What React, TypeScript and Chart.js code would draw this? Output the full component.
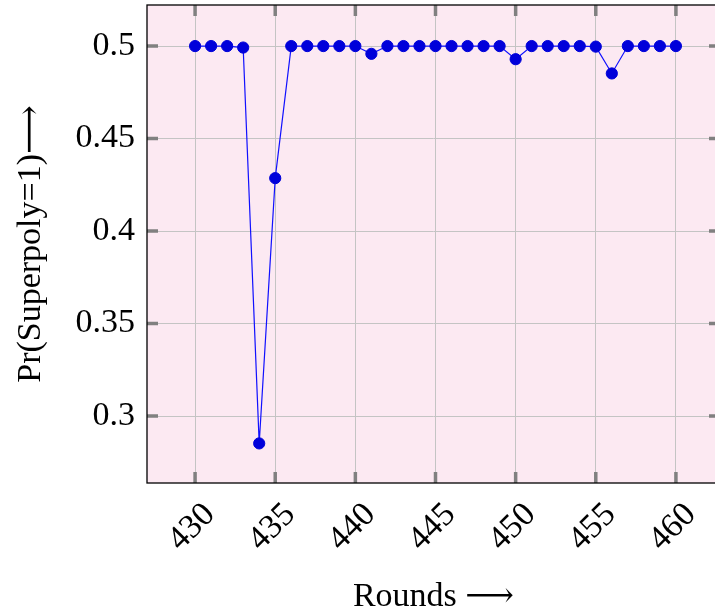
import React, { useEffect, useRef } from "react";
import { Chart, registerables } from "chart.js";

Chart.register(...registerables);

const rounds: number[] = [430, 431, 432, 433, 434, 435, 436, 437, 438, 439, 440, 441, 442, 443, 444, 445, 446, 447, 448, 449, 450, 451, 452, 453, 454, 455, 456, 457, 458, 459, 460];
const probs: number[] = [0.5, 0.5, 0.5, 0.4992, 0.2852, 0.4286, 0.5, 0.5, 0.5, 0.5, 0.5, 0.4958, 0.5, 0.5, 0.5, 0.5, 0.5, 0.5, 0.5, 0.5, 0.4929, 0.5, 0.5, 0.5, 0.5, 0.4997, 0.4852, 0.5, 0.5, 0.5, 0.5];
const xTicks: number[] = [430, 435, 440, 445, 450, 455, 460];
const yTicks: number[] = [0.3, 0.35, 0.4, 0.45, 0.5];

const FONT = "'Liberation Serif', 'DejaVu Serif', serif";

const frame = {
  id: "frame",
  beforeDraw(chart: any) {
    const { ctx, chartArea: a } = chart;
    ctx.save();
    ctx.fillStyle = "rgb(252,233,242)";
    ctx.fillRect(a.left, a.top, a.right - a.left, a.bottom - a.top);
    ctx.restore();
  },
  beforeDatasetsDraw(chart: any) {
    const { ctx, chartArea: a, scales } = chart;
    ctx.save();
    ctx.strokeStyle = "#808080";
    ctx.lineWidth = 3.5;
    const L = 11;
    for (const v of xTicks) {
      const x = scales.x.getPixelForValue(v);
      ctx.beginPath();
      ctx.moveTo(x, a.bottom);
      ctx.lineTo(x, a.bottom - L);
      ctx.moveTo(x, a.top);
      ctx.lineTo(x, a.top + L);
      ctx.stroke();
    }
    for (const v of yTicks) {
      const y = scales.y.getPixelForValue(v);
      ctx.beginPath();
      ctx.moveTo(a.left, y);
      ctx.lineTo(a.left + L, y);
      ctx.moveTo(a.right, y);
      ctx.lineTo(a.right - L, y);
      ctx.stroke();
    }
    ctx.strokeStyle = "#000";
    ctx.lineWidth = 1.3;
    ctx.strokeRect(a.left, a.top, a.right - a.left, a.bottom - a.top);
    ctx.restore();
  },
};

export default function App() {
  const ref = useRef<HTMLCanvasElement>(null);
  useEffect(() => {
    const chart = new Chart(ref.current!, {
      type: "line",
      data: {
        datasets: [
          {
            data: rounds.map((r, i) => ({ x: r, y: probs[i] })),
            borderColor: "#1010ff",
            borderWidth: 1.2,
            backgroundColor: "rgb(0,0,218)",
            pointBackgroundColor: "rgb(0,0,218)",
            pointBorderColor: "rgb(0,0,218)",
            pointBorderWidth: 1,
            pointRadius: 5.6,
            tension: 0,
          },
        ],
      },
      plugins: [frame],
      options: {
        animation: false,
        responsive: false,
        layout: { autoPadding: false, padding: { top: 5, right: 0, bottom: 0, left: 0 } },
        plugins: { legend: { display: false }, tooltip: { enabled: false } },
        scales: {
          x: {
            type: "linear",
            min: 427,
            max: 462.75,
            afterBuildTicks: (s: any) => {
              s.ticks = xTicks.map((v) => ({ value: v }));
            },
            afterFit: (s: any) => {
              s.height = 131;
              s.paddingLeft = 0;
              s.paddingRight = 0;
            },
            grid: { color: "#c4c4c4", lineWidth: 1, drawTicks: false },
            border: { display: false },
            ticks: {
              font: { family: FONT, size: 34 },
              color: "#000",
              minRotation: 45,
              maxRotation: 45,
              padding: 12,
              labelOffset: 15,
              callback: (v: any) => String(v),
            },
            title: {
              display: true,
              text: "Rounds ⟶",
              font: { family: FONT, size: 34, lineHeight: 1 },
              color: "#000",
              padding: { top: 0, bottom: 0 },
            },
          },
          y: {
            type: "linear",
            min: 0.2638,
            max: 0.5222,
            afterBuildTicks: (s: any) => {
              s.ticks = yTicks.map((v) => ({ value: v }));
            },
            afterFit: (s: any) => {
              s.width = 147;
              s.paddingTop = 0;
              s.paddingBottom = 0;
            },
            grid: { color: "#c4c4c4", lineWidth: 1, drawTicks: false },
            border: { display: false },
            ticks: {
              font: { family: FONT, size: 34 },
              color: "#000",
              padding: 12,
              callback: (v: any) => String(v),
            },
            title: {
              display: true,
              text: "Pr(Superpoly=1)⟶",
              font: { family: FONT, size: 34, lineHeight: 1 },
              color: "#000",
              padding: { top: 14, bottom: 0 },
            },
          },
        },
      },
    });
    return () => chart.destroy();
  }, []);
  return (
    <div style={{ position: "fixed", left: 0, top: 0, width: 715, height: 614, overflow: "hidden", background: "#fff" }}>
      <canvas ref={ref} width={720} height={614} style={{ width: 720, height: 614, display: "block" }} />
    </div>
  );
}
